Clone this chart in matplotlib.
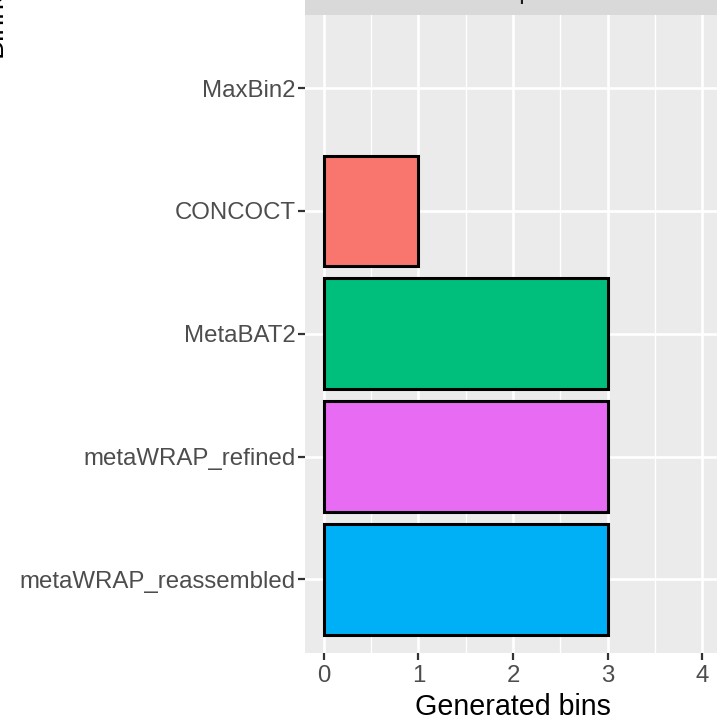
import matplotlib
matplotlib.use("Agg")
import matplotlib.pyplot as plt
from matplotlib.ticker import MultipleLocator

# data (bottom to top on the y axis)
binners = ["metaWRAP_reassembled", "metaWRAP_refined", "MetaBAT2", "CONCOCT", "MaxBin2"]
generated_bins = [3, 3, 3, 1, 0]
bar_colors = ["#00B0F6", "#E76BF3", "#00BF7D", "#F8766D", "#A3A500"]
x_ticks = [0, 1, 2, 3, 4]
strip_label = "sample"

W, H = 717, 726
plt.rcParams.update({
    "font.family": ["Liberation Sans", "DejaVu Sans"],
})

fig = plt.figure(figsize=(W / 100, H / 100), dpi=100)
fig.patch.set_facecolor("white")

# panel in pixel coordinates (it runs a little past the right and top edges)
left, right, bottom, top = 305, 721, 653, 14.5
ax = fig.add_axes([left / W, 1 - bottom / H, (right - left) / W, (bottom - top) / H])
ax.set_facecolor("#EBEBEB")

ypos = list(range(1, len(binners) + 1))
for y, v, c in zip(ypos, generated_bins, bar_colors):
    if v > 0:
        ax.barh(y, v, height=0.9, color=c, edgecolor="black", linewidth=2.2, zorder=3)

ax.set_xlim(-0.2, 4.2)
ax.set_ylim(0.4, len(binners) + 0.6)
ax.set_xticks(x_ticks)
ax.xaxis.set_minor_locator(MultipleLocator(0.5))
ax.set_yticks(ypos)
ax.set_yticklabels(binners)

ax.grid(which="major", color="white", linewidth=1.9, zorder=1)
ax.grid(which="minor", axis="x", color="white", linewidth=0.95, zorder=1)
ax.set_axisbelow(True)
for s in ax.spines.values():
    s.set_visible(False)
ax.tick_params(axis="both", which="major", length=5, width=1.6, color="#333333",
               labelsize=17.3, labelcolor="#4D4D4D", pad=4)
ax.tick_params(axis="y", which="major", pad=2)
ax.tick_params(axis="both", which="minor", length=0)
ax.set_xlabel("Generated bins", fontsize=20.6, color="black", labelpad=4)

# facet strip above the panel (mostly cut off)
strip = fig.add_axes([left / W, 1 - top / H, (right - left) / W, 40 / H])
strip.set_facecolor("#D9D9D9")
strip.set_xticks([])
strip.set_yticks([])
for s in strip.spines.values():
    s.set_visible(False)
fig.text((left + right) / 2 / W, 1 + 1 / H, strip_label, ha="center", va="baseline",
         fontsize=17.3, color="#1A1A1A")

# y axis title (mostly cut off)
fig.text(8 / W, 1 - 57 / H, "Binner", rotation=90, ha="right", va="bottom",
         fontsize=20.6, color="black")

fig.savefig("out.png", dpi=100)
